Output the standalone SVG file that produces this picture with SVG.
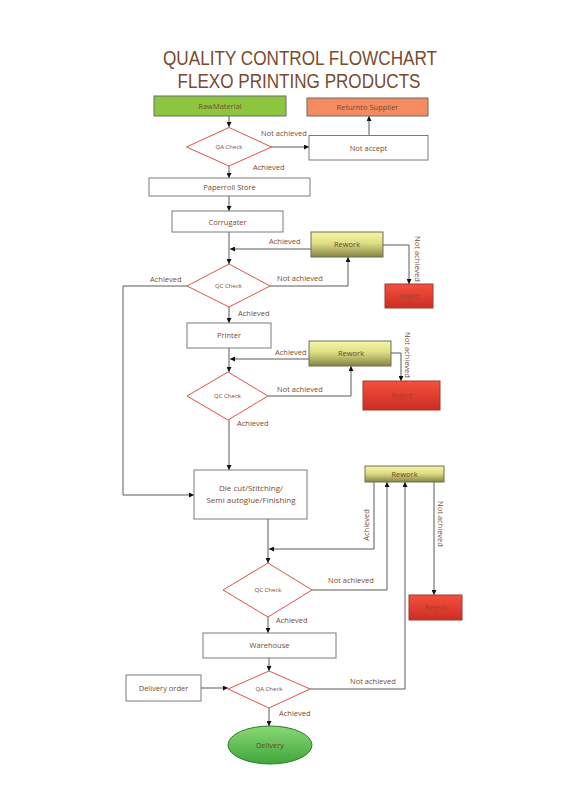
<svg xmlns="http://www.w3.org/2000/svg" width="566" height="800" viewBox="0 0 566 800">
<defs>
<linearGradient id="gRework" x1="0" y1="0" x2="0" y2="1">
<stop offset="0" stop-color="#f6f6a6"/><stop offset="0.45" stop-color="#dede86"/><stop offset="1" stop-color="#858543"/>
</linearGradient>
<linearGradient id="gReject" x1="0" y1="0" x2="0" y2="1">
<stop offset="0" stop-color="#f4503e"/><stop offset="1" stop-color="#cc2e22"/>
</linearGradient>
<linearGradient id="gDelivery" x1="0" y1="0" x2="0" y2="1">
<stop offset="0" stop-color="#8ad874"/><stop offset="1" stop-color="#3fa63b"/>
</linearGradient>
<marker id="ah" viewBox="0 0 10 10" refX="10" refY="5" markerWidth="5" markerHeight="5" orient="auto" markerUnits="userSpaceOnUse">
<path d="M0,0 L10,5 L0,10 z" fill="#111"/>
</marker>
</defs>
<style>
.box{fill:#fff;stroke:#7a7a7a;stroke-width:1}
.dia{fill:#fff;stroke:#e0504a;stroke-width:1}
.rw{fill:url(#gRework);stroke:#6e6e5a;stroke-width:1}
.rj{fill:url(#gReject);stroke:#9e3a30;stroke-width:1}
.t{font-family:'Open Sans','Liberation Sans',sans-serif;fill:#7b4a2e;text-anchor:middle}
.n{font-size:7.5px}
.s{font-size:6px}
.l{font-family:'Open Sans','Liberation Sans',sans-serif;fill:#7b4a2e;font-size:7.5px}
.c{fill:none;stroke:#5a5a5a;stroke-width:1}
.ca{fill:none;stroke:#5a5a5a;stroke-width:1;marker-end:url(#ah)}
.title{font-family:'Liberation Sans',Arial,sans-serif;fill:#7a4a30;font-size:20px;text-anchor:middle}
</style>
<rect width="566" height="800" fill="#fff"/>
<g id="title">
<text class="title" x="300" y="64.5" textLength="274" lengthAdjust="spacingAndGlyphs">QUALITY CONTROL FLOWCHART</text>
<text class="title" x="299" y="87.5" textLength="243" lengthAdjust="spacingAndGlyphs">FLEXO PRINTING PRODUCTS</text>
</g>
<g id="connectors">
<path class="ca" d="M229,116 V127"/>
<path class="ca" d="M271,147 H309"/>
<path class="ca" d="M369,135 V116"/>
<path class="ca" d="M229,166 V178"/>
<path class="ca" d="M229,196 V211"/>
<path class="ca" d="M229,232 V264"/>
<path class="ca" d="M311,249 H230"/>
<path class="ca" d="M270,286 H348 V257"/>
<path class="ca" d="M383,245 H409 V284"/>
<path class="ca" d="M187,286 H123 V495 H194"/>
<path class="ca" d="M229,307 V323"/>
<path class="ca" d="M229,348 V372"/>
<path class="ca" d="M309,359 H230"/>
<path class="ca" d="M268,396 H351 V366"/>
<path class="ca" d="M391,353 H401 V381"/>
<path class="ca" d="M229,420 V470"/>
<path class="ca" d="M268,519 V563"/>
<path class="ca" d="M374,482 V549 H269"/>
<path class="ca" d="M312,590 H387 V482"/>
<path class="ca" d="M434,482 V595"/>
<path class="ca" d="M268,617 V633"/>
<path class="ca" d="M269,658 V671"/>
<path class="ca" d="M201,688 H228"/>
<path class="ca" d="M310,689 H405 V482"/>
<path class="ca" d="M269,708 V726"/>
</g>
<g id="labels">
<text class="l" x="261" y="136">Not achieved</text>
<text class="l" x="253" y="170">Achieved</text>
<text class="l" x="269" y="244">Achieved</text>
<text class="l" x="277" y="281">Not achieved</text>
<text class="l" x="150" y="282">Achieved</text>
<text class="l" x="238" y="316">Achieved</text>
<text class="l" x="275" y="355">Achieved</text>
<text class="l" x="277" y="392">Not achieved</text>
<text class="l" x="237" y="426">Achieved</text>
<text class="l" x="328" y="583">Not achieved</text>
<text class="l" x="276" y="623">Achieved</text>
<text class="l" x="350" y="684">Not achieved</text>
<text class="l" x="279" y="716">Achieved</text>
<text class="l" text-anchor="middle" transform="translate(415,259) rotate(90)">Not achieved</text>
<text class="l" text-anchor="middle" transform="translate(405,355) rotate(90)">Not achieved</text>
<text class="l" text-anchor="middle" transform="translate(438,524) rotate(90)">Not achieved</text>
<text class="l" text-anchor="middle" transform="translate(369,525) rotate(-90)">Achieved</text>
</g>
<g id="rawmaterial">
<rect x="154" y="96" width="132" height="20" fill="#8cc63e" stroke="#6a6a6a"/>
<text class="t n" x="220" y="109">RawMaterial</text>
</g>
<g id="return-supplier">
<rect x="307" y="98" width="121" height="18" fill="#f58b60" stroke="#6a6a6a"/>
<text class="t n" x="367.5" y="110">Returnto Supplier</text>
</g>
<g id="qa-check-1">
<polygon class="dia" points="229,127.5 271.5,147 229,166 186.5,147"/>
<text class="t s" x="229" y="149">QA Check</text>
</g>
<g id="not-accept">
<rect class="box" x="309" y="135.5" width="119" height="24.5"/>
<text class="t n" x="368.5" y="150.5">Not accept</text>
</g>
<g id="paperroll-store">
<rect class="box" x="149" y="178" width="161" height="18"/>
<text class="t n" x="229.5" y="190">Paperroll Store</text>
</g>
<g id="corrugater">
<rect class="box" x="172" y="211" width="111" height="21"/>
<text class="t n" x="227.5" y="224.5">Corrugater</text>
</g>
<g id="rework-1">
<rect class="rw" x="311" y="232" width="72" height="25"/>
<text class="t n" x="347" y="247" style="fill:#6e4a1e">Rework</text>
</g>
<g id="reject-1">
<rect class="rj" x="385" y="284" width="48" height="24"/>
<text class="t n" x="409" y="298.5" style="fill:#a8402e">Reject</text>
</g>
<g id="qc-check-2">
<polygon class="dia" points="229,264 270,286 229,307 187,286"/>
<text class="t s" x="228.5" y="288">QC Check</text>
</g>
<g id="printer">
<rect class="box" x="187" y="323" width="84" height="25"/>
<text class="t n" x="229" y="338">Printer</text>
</g>
<g id="rework-2">
<rect class="rw" x="309" y="341" width="82" height="25"/>
<text class="t n" x="351" y="356" style="fill:#6e4a1e">Rework</text>
</g>
<g id="reject-2">
<rect class="rj" x="363" y="381" width="77" height="29"/>
<text class="t n" x="401.5" y="398" style="fill:#a8402e">Reject</text>
</g>
<g id="qc-check-3">
<polygon class="dia" points="228,372 268,396 228,420 187,396"/>
<text class="t s" x="227.5" y="398">QC Check</text>
</g>
<g id="die-cut">
<rect class="box" x="194" y="470" width="113" height="49"/>
<text class="t" x="251" y="491" style="font-size:8px">Die cut/Stitching/</text>
<text class="t" x="251" y="503" style="font-size:8px">Semi autoglue/Finishing</text>
</g>
<g id="rework-3">
<rect class="rw" x="365" y="466" width="79" height="16"/>
<text class="t n" x="404.5" y="477" style="fill:#6e4a1e">Rework</text>
</g>
<g id="reject-3">
<rect class="rj" x="409" y="595" width="53" height="25"/>
<text class="t n" x="435.5" y="610" style="fill:#a8402e">Reject</text>
</g>
<g id="qc-check-4">
<polygon class="dia" points="268,563 312,590 268,617 223,590"/>
<text class="t s" x="268" y="592">QC Check</text>
</g>
<g id="warehouse">
<rect class="box" x="203" y="633" width="133" height="25"/>
<text class="t n" x="269.5" y="648">Warehouse</text>
</g>
<g id="delivery-order">
<rect class="box" x="126" y="675" width="75" height="26"/>
<text class="t n" x="163.5" y="690.5">Delivery order</text>
</g>
<g id="qa-check-5">
<polygon class="dia" points="269,671 310,689 269,708 228,689"/>
<text class="t s" x="269" y="691">QA Check</text>
</g>
<g id="delivery">
<ellipse cx="270" cy="745" rx="42" ry="19" fill="url(#gDelivery)" stroke="#2f7a2f"/>
<text class="t n" x="270" y="748" style="fill:#6e4a1e">Delivery</text>
</g>
</svg>
